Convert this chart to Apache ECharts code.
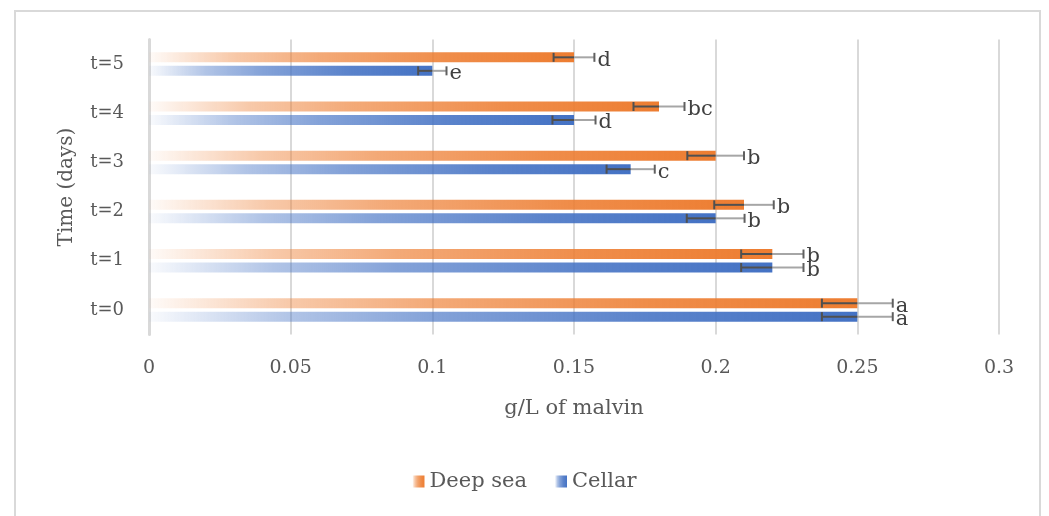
<!DOCTYPE html>
<html>
<head>
<meta charset="utf-8">
<script src="https://cdn.jsdelivr.net/npm/echarts@6/dist/echarts.min.js"></script>
<style>
html,body{margin:0;padding:0;background:#fff;}
#frame{position:absolute;left:14px;top:10px;width:1027px;height:520px;border:2px solid #d9d9d9;box-sizing:border-box;}
#chart{position:absolute;left:0;top:0;width:1049px;height:516px;}
</style>
</head>
<body>
<div id="frame"></div>
<div id="chart"></div>
<script>
const categories = ['t=0', 't=1', 't=2', 't=3', 't=4', 't=5'];
const deepSea = [0.25, 0.22, 0.21, 0.20, 0.18, 0.15];
const cellar = [0.25, 0.22, 0.20, 0.17, 0.15, 0.10];
const deepSeaErr = [0.0125, 0.011, 0.0105, 0.010, 0.009, 0.0072];
const cellarErr = [0.0125, 0.011, 0.0102, 0.0085, 0.0076, 0.005];
const deepSeaLetters = ['a', 'b', 'b', 'b', 'bc', 'd'];
const cellarLetters = ['a', 'b', 'b', 'c', 'd', 'e'];
const xTicks = [0, 0.05, 0.1, 0.15, 0.2, 0.25, 0.3];

const FONT = 'DejaVu Serif';
const TXT = '#595959';

function grad(r, g, b) {
  return new echarts.graphic.LinearGradient(0, 0, 1, 0, [
    { offset: 0, color: `rgba(${r},${g},${b},0.03)` },
    { offset: 0.2, color: `rgba(${r},${g},${b},0.42)` },
    { offset: 0.4, color: `rgba(${r},${g},${b},0.66)` },
    { offset: 0.7, color: `rgba(${r},${g},${b},0.88)` },
    { offset: 1, color: `rgba(${r},${g},${b},1)` }
  ]);
}

function errData(vals, errs) {
  return vals.map((v, i) => [v, i, errs[i]]);
}

function errRender(offset, letters) {
  return function (params, api) {
    const v = api.value(0), c = api.value(1), e = api.value(2);
    const letter = letters[params.dataIndex];
    const pv = api.coord([v, c]);
    const pl = api.coord([v - e, c]);
    const ph = api.coord([v + e, c]);
    const y = pv[1] + offset;
    const cap = 4.5;
    return {
      type: 'group',
      children: [
        { type: 'line', shape: { x1: pv[0], y1: y, x2: ph[0], y2: y }, style: { stroke: '#a6a6a6', lineWidth: 2 } },
        { type: 'line', shape: { x1: pl[0], y1: y, x2: pv[0], y2: y }, style: { stroke: '#505050', lineWidth: 2 } },
        { type: 'line', shape: { x1: pl[0], y1: y - cap, x2: pl[0], y2: y + cap }, style: { stroke: '#505050', lineWidth: 2 } },
        { type: 'line', shape: { x1: ph[0], y1: y - cap, x2: ph[0], y2: y + cap }, style: { stroke: '#606060', lineWidth: 2 } },
        { type: 'text', style: { x: ph[0] + 3, y: y + 3, text: letter, fill: '#404040', fontFamily: FONT, fontSize: 21, align: 'left', verticalAlign: 'middle' } }
      ]
    };
  };
}

const chart = echarts.init(document.getElementById('chart'), null, { renderer: 'canvas' });
chart.setOption({
  animation: false,
  backgroundColor: 'transparent',
  textStyle: { fontFamily: FONT },
  grid: { left: 149, right: 50, top: 39.5, bottom: 181.5, containLabel: false },
  legend: {
    bottom: 19,
    left: 'center',
    data: ['Deep sea', 'Cellar'],
    icon: 'rect',
    itemWidth: 12,
    itemHeight: 12,
    itemGap: 28,
    textStyle: { fontFamily: FONT, fontSize: 21, color: TXT }
  },
  xAxis: {
    type: 'value',
    min: 0,
    max: 0.3,
    interval: 0.05,
    name: 'g/L of malvin',
    nameLocation: 'middle',
    nameGap: 64,
    nameTextStyle: { fontFamily: FONT, fontSize: 21, color: TXT },
    axisLine: { show: false },
    axisTick: { show: false },
    axisLabel: {
      margin: 24, fontFamily: FONT, fontSize: 19, color: TXT,
      formatter: (v) => { const t = xTicks.find(x => Math.abs(x - v) < 1e-9); return String(t !== undefined ? t : v); }
    },
    splitLine: { show: true, lineStyle: { color: '#d9d9d9', width: 2 } }
  },
  yAxis: {
    type: 'category',
    data: categories,
    name: 'Time (days)',
    nameLocation: 'middle',
    nameGap: 72,
    nameRotate: 90,
    nameTextStyle: { fontFamily: FONT, fontSize: 20, color: TXT },
    axisLine: { show: true, lineStyle: { color: '#d9d9d9', width: 3 } },
    axisTick: { show: false },
    axisLabel: { margin: 25, fontFamily: FONT, fontSize: 18, color: TXT },
    splitLine: { show: false }
  },
  series: [
    {
      name: 'Deep sea', type: 'bar', data: deepSea, barWidth: 10, barGap: '35%',
      itemStyle: { color: grad(237, 125, 49) }, z: 2
    },
    {
      name: 'Cellar', type: 'bar', data: cellar, barWidth: 10, barGap: '35%',
      itemStyle: { color: grad(68, 114, 196) }, z: 2
    },
    {
      name: 'Deep sea err', type: 'custom', data: errData(deepSea, deepSeaErr),
      encode: { x: 0, y: 1 }, renderItem: errRender(-6.75, deepSeaLetters), z: 5, silent: true
    },
    {
      name: 'Cellar err', type: 'custom', data: errData(cellar, cellarErr),
      encode: { x: 0, y: 1 }, renderItem: errRender(6.75, cellarLetters), z: 5, silent: true
    }
  ]
});
</script>
</body>
</html>
